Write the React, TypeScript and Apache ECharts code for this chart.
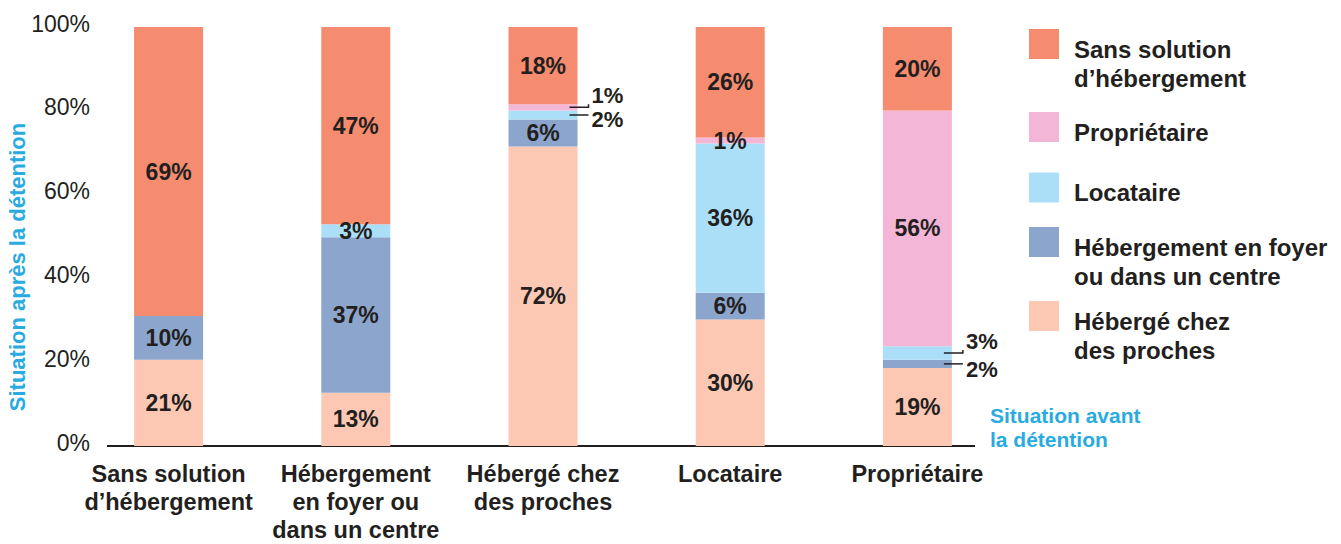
import React, { useEffect, useRef } from 'react';
import * as echarts from 'echarts';

// ---- Data (percent) ----
const categories = [
  'Sans solution\nd’hébergement',
  'Hébergement\nen foyer ou\ndans un centre',
  'Hébergé chez\ndes proches',
  'Locataire',
  'Propriétaire',
];
const procheValues = [20.6, 12.7, 71.5, 30.2, 18.6];
const foyerValues = [10.4, 37.1, 6.4, 6.4, 2.0];
const locataireValues = [0, 3.1, 2.2, 35.6, 3.2];
const proprietaireValues = [0, 0, 1.45, 1.4, 56.3];
const sansSolutionValues = [69.0, 47.1, 18.45, 26.4, 19.9];

const seriesNames = [
  'Hébergé chez\ndes proches',
  'Hébergement en foyer\nou dans un centre',
  'Locataire',
  'Propriétaire',
  'Sans solution\nd’hébergement',
];
const yAxisTitle = 'Situation après la détention';
const xAxisTitle = 'Situation avant\nla détention';

// ---- Styles ----
const FONT = "'Liberation Sans', Arial, Helvetica, sans-serif";
const TEXT = '#231f20';
const CYAN = '#29abe2';
const COLORS = ['#fcc8b4', '#8ba5cc', '#abdff8', '#f4b6d6', '#f58c6f'];
const BAR_W = 69;

const allValues = [procheValues, foyerValues, locataireValues, proprietaireValues, sansSolutionValues];

// labels placed outside the bar with a leader line
const outsideLabels = [
  { s: 3, c: 2, dy: -12, elbow: true },
  { s: 2, c: 2, dy: 5, elbow: false },
  { s: 2, c: 4, dy: -11, elbow: true },
  { s: 1, c: 4, dy: 6, elbow: false },
];

// legend layout (top to bottom): series index, icon centre y, number of text lines
const legendLayout = [
  { s: 4, ic: 44, lines: 2 },
  { s: 3, ic: 127, lines: 1 },
  { s: 2, ic: 187.5, lines: 1 },
  { s: 1, ic: 242, lines: 2 },
  { s: 0, ic: 316, lines: 2 },
];

export default function App() {
  const ref = useRef<HTMLDivElement>(null);

  useEffect(() => {
    if (!ref.current) return;
    const chart = echarts.init(ref.current, null, { renderer: 'svg' });

    const series = seriesNames.map((name, s) => ({
      name,
      type: 'bar',
      stack: 'total',
      barWidth: BAR_W,
      itemStyle: { color: COLORS[s] },
      emphasis: { disabled: true },
      label: {
        show: true,
        position: 'inside',
        color: TEXT,
        fontFamily: FONT,
        fontSize: 23,
        fontWeight: 'bold',
        formatter: (p: any) => {
          const v = typeof p.value === 'number' ? p.value : Number(p.value);
          return v < 0.5 ? '' : Math.round(v) + '%';
        },
      },
      data: allValues[s].map((v, c) => {
        const o = outsideLabels.find((x) => x.s === s && x.c === c);
        if (o) {
          return {
            value: v,
            label: {
              position: 'right',
              distance: 14,
              offset: [0, o.dy],
              fontSize: 22,
              lineHeight: 19,
            },
          };
        }
        return v;
      }),
    }));

    const LH = 29;
    const legends = legendLayout.map((l) => {
      const gap = l.lines * LH - 19;
      const H = gap + l.lines * LH;
      return {
        data: [seriesNames[l.s]],
        left: 1029,
        top: l.ic - H / 2,
        orient: 'vertical',
        padding: 0,
        icon: 'rect',
        itemWidth: 30,
        itemHeight: 30,
        selectedMode: false,
        formatter: (name: string) =>
          '{g| }\n' + name.split('\n').map((ln) => '{t|' + ln + '}').join('\n'),
        textStyle: {
          color: TEXT,
          fontFamily: FONT,
          fontSize: 24,
          fontWeight: 'bold',
          padding: [0, 0, 0, 10],
          rich: {
            g: { fontSize: 6, lineHeight: gap, height: gap },
            t: {
              color: TEXT,
              fontFamily: FONT,
              fontSize: 24,
              fontWeight: 'bold',
              lineHeight: LH,
            },
          },
        },
      };
    });

    const option: any = {
      animation: false,
      backgroundColor: '#ffffff',
      grid: { left: 75, right: 330, top: 27, bottom: 98, outerBoundsMode: 'none' },
      legend: legends,
      xAxis: {
        type: 'category',
        data: categories,
        axisLine: { show: false },
        axisTick: { show: false },
        axisLabel: {
          interval: 0,
          color: TEXT,
          fontFamily: FONT,
          fontSize: 23.5,
          fontWeight: 'bold',
          lineHeight: 28,
          margin: 14,
        },
      },
      yAxis: {
        type: 'value',
        min: 0,
        max: 100,
        interval: 20,
        splitLine: { show: false },
        axisLine: { show: false },
        axisTick: { show: false },
        axisLabel: {
          formatter: '{value}%',
          color: TEXT,
          fontFamily: FONT,
          fontSize: 23,
          margin: -15,
          verticalAlign: 'bottom',
          lineHeight: 7,
        },
      },
      series,
    };

    chart.setOption(option);

    const toPx = (c: number, v: number) => chart.convertToPixel({ gridIndex: 0 }, [c, v]) as number[];
    const y0 = toPx(0, 0)[1];

    const graphics: any[] = [
      {
        type: 'line',
        z: 0,
        shape: { x1: 107, y1: y0, x2: 975, y2: y0 },
        style: { stroke: TEXT, lineWidth: 2 },
      },
      {
        type: 'text',
        x: 17,
        y: 267,
        rotation: Math.PI / 2,
        style: {
          text: yAxisTitle,
          fill: CYAN,
          font: `bold 22px ${FONT}`,
          align: 'center',
          verticalAlign: 'middle',
          textAlign: 'center',
          textVerticalAlign: 'middle',
        },
      },
      {
        type: 'text',
        x: 990,
        y: 403,
        style: {
          text: xAxisTitle,
          fill: CYAN,
          font: `bold 21px ${FONT}`,
          lineHeight: 24,
          align: 'left',
          verticalAlign: 'top',
          textAlign: 'left',
          textVerticalAlign: 'top',
        },
      },
    ];

    outsideLabels.forEach((o) => {
      let bottom = 0;
      for (let k = 0; k < o.s; k++) bottom += allValues[k][o.c];
      const mid = bottom + allValues[o.s][o.c] / 2;
      const [cx, y] = toPx(o.c, mid);
      const right = cx + BAR_W / 2;
      const x1 = right - 8;
      const x2 = right + 11;
      const pts = o.elbow ? [[x1, y], [x2, y], [x2, y - 3]] : [[x1, y], [x2, y]];
      graphics.push({
        type: 'polyline',
        z: 10,
        shape: { points: pts },
        style: { stroke: TEXT, lineWidth: 1.5, fill: null },
      });
    });

    chart.setOption({ graphic: graphics });

    return () => chart.dispose();
  }, []);

  return (
    <div
      ref={ref}
      style={{ position: 'fixed', left: 0, top: 0, width: 1341, height: 544, background: '#fff' }}
    />
  );
}
